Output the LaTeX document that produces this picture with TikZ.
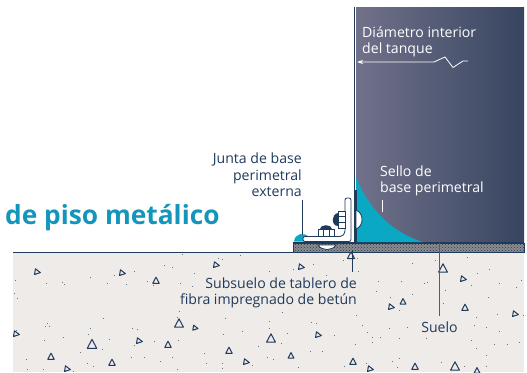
\documentclass[tikz,border=0pt]{standalone}
\usepackage{fontspec}
\setmainfont{Open Sans}
\usepackage{xcolor}
\usetikzlibrary{calc, patterns, arrows.meta}

\definecolor{navy}{HTML}{1F3A5C}
\definecolor{sealblue}{HTML}{0BA8C4}
\definecolor{titleblue}{HTML}{1495BC}
\definecolor{groundgray}{HTML}{EEEBE8}

\tikzset{
  labeltext/.style={text=navy, inner sep=0pt, font=\fontsize{14.1}{16.4}\selectfont},
  whitetext/.style={text=white, inner sep=0pt, font=\fontsize{14.1}{16.4}\selectfont},
  steelpart/.style={draw=navy, line width=0.8pt, fill=white},
  leaderline/.style={draw=navy, line width=0.8pt},
  stone/.style={draw=navy, line width=1pt, line join=round}
}

\begin{document}
\begin{tikzpicture}[x=1pt, y=-1pt]

  \useasboundingbox (0,0) rectangle (527,372);

  % Draw the ground
  \fill[groundgray] (13,252) rectangle (524,372);
  \draw[navy, line width=0.9pt] (13,252) -- (293,252);

  % Stones in the ground
  \foreach \px/\py/\size/\turn in {37/272/3.4/-100, 122/273/3.4/-100, 156/281/3.8/0, 216/265/3.4/-100,
    179/324/5.2/0, 195/328/3/-100, 16/334/3.4/-100, 92/345/5.6/0, 139/341/3.4/-100, 168/345/3.8/0,
    51/357/3.8/0, 112/363/3.8/0, 67/369/3.4/-100, 229/351/3.8/0, 246/362/3.4/-100, 351/256/4.2/0,
    301/267/3.4/-100, 443/269/5.2/0, 463/279/3.4/-100, 403/302/3.4/0, 391/307/3.4/-100, 465/308/3.8/0,
    515/314/3.4/-100, 271/339/5.2/0, 318/335/3.4/-100, 291/356/3.4/0, 353/362/3.8/0, 370/369/3.4/-100,
    415/367/3.8/0, 455/367/5.2/0, 477/371/3.4/0}
    \draw[stone, shift={(\px,\py)}, rotate=\turn] (0,-\size) -- (0.85*\size,0.6*\size) -- (-0.85*\size,0.6*\size) -- cycle;

  % Specks in the ground
  \foreach \px/\py in {182/254, 218/258, 222/259, 240/255, 164/265, 172/267, 194/273, 134/271,
    114/275, 90/277, 15/280, 46/283, 62/282, 64/284, 107/283, 126/284, 147/281, 153/285, 180/283,
    192/286, 14/293, 17/298, 179/311, 177/317, 103/318, 47/323, 49/326, 45/326, 225/318, 90/328,
    132/328, 137/329, 242/331, 16/330, 88/334, 223/334, 44/340, 63/337, 109/339, 154/341, 178/340,
    134/345, 102/349, 80/352, 204/353, 258/346, 26/359, 131/357, 144/357, 172/357, 160/361, 87/363,
    93/366, 206/363, 222/363, 252/365, 27/369, 43/369, 177/369, 222/368, 73/371, 343/260, 357/258,
    313/264, 293/269, 269/271, 358/271, 326/275, 412/263, 435/260, 467/257, 489/269, 477/273,
    521/280, 499/283, 471/285, 378/281, 401/281, 424/283, 427/282, 376/291, 445/290, 390/297,
    516/287, 412/294, 488/297, 443/303, 399/310, 476/317, 497/314, 523/315, 356/315, 282/312,
    269/321, 311/322, 316/323, 362/325, 389/328, 407/327, 474/325, 486/327, 499/331, 269/328,
    287/333, 367/332, 380/337, 372/337, 334/335, 399/338, 426/338, 471/340, 494/344, 507/344,
    519/342, 355/344, 372/342, 281/343, 476/348, 310/351, 322/351, 267/357, 273/359, 486/355,
    344/366, 366/363, 399/358, 392/361, 397/367, 441/362, 298/367, 464/366, 486/366}
    \fill[navy!70!white] (\px-0.5,\py-0.5) rectangle (\px+0.5,\py+0.5);

  % Draw the tank wall
  \fill[left color={rgb,255:red,113;green,113;blue,138}, middle color={rgb,255:red,88;green,92;blue,122},
    right color={rgb,255:red,55;green,69;blue,96}] (356,7) rectangle (524,243);
  \draw[navy, line width=1pt] (354.5,7) -- (354.5,243);

  % Draw the base plate
  \draw[navy, line width=1pt, pattern=crosshatch dots, pattern color=navy, preaction={fill=gray!90}]
    (293,243) rectangle (524,252);
  \fill[navy] (293,241.5) rectangle (524,243.5);

  % Draw the seal
  \fill[sealblue] (356,177) .. controls (368,207) and (390,232) .. (423,242) -- (356,242) -- cycle;
  \draw[navy, line width=1.6pt] (356,190) -- (356,243);

  % Draw the weld under the plate
  \draw[navy, line width=0.7pt, fill=white] (318,245) .. controls (322,251) and (332,251) .. (336,245) -- cycle;

  % Draw the outer joint
  \fill[sealblue] (294,241.5) .. controls (295,233) and (304,232) .. (309,237) -- (309,241.5) -- cycle;

  % Draw the angle bracket
  \draw[steelpart, rounded corners=2pt] (345,198) -- (351,198) -- (351,241.5) -- (303,241.5)
    -- (303,236.5) -- (342,236.5) -- (345,233) -- cycle;

  % Draw the bolts
  \draw[steelpart] (356,210) .. controls (364,213) and (364,226) .. (356,229) -- cycle;
  \draw[steelpart] (338,211) rectangle (345,228);
  \draw[navy, line width=0.8pt] (338,216.5) -- (345,216.5) (338,222.5) -- (345,222.5);
  \fill[navy] (338,213) .. controls (331,214) and (331,226) .. (338,226) -- cycle;
  \draw[steelpart] (318,229) rectangle (334,236.5);
  \draw[navy, line width=0.8pt] (323,229) -- (323,236.5) (329,229) -- (329,236.5);
  \fill[navy] (320,229) .. controls (320,224) and (332,224) .. (332,229) -- cycle;

  % Title and labels
  \node[inner sep=0pt, anchor=base west, text=titleblue, font=\fontsize{26.3}{28}\selectfont\bfseries]
    (titlelabel) at (5,224) {de piso metálico};
  \node[whitetext, anchor=north west, align=left] (diamlabel) at (362,26.5) {Diámetro interior\\del tanque};
  \node[whitetext, anchor=north west, align=left] (sellolabel) at (380,165.5) {Sello de\\base perimetral};
  \node[labeltext, anchor=south east, align=right] (juntalabel) at (302,197) {Junta de base\\perimetral\\externa};
  \node[labeltext, anchor=north east, align=right] (subsuelolabel) at (357,277.5) {Subsuelo de tablero de\\fibra impregnado de betún};
  \node[labeltext, anchor=north] (suelolabel) at (439.5,322) {Suelo};

  % Leader lines
  \coordinate (juntatop) at (302,200);
  \coordinate (juntafoot) at (302,235);
  \coordinate (sellotop) at (382,200);
  \coordinate (sellofoot) at (382,212);
  \coordinate (subsuelotop) at (352,250);
  \coordinate (subsuelofoot) at (352,272);
  \coordinate (suelotop) at (439.5,243);
  \coordinate (suelofoot) at (439.5,316);
  \coordinate (arrowtail) at (434,62);
  \coordinate (arrowtip) at (357,62);
  \draw[leaderline] (juntatop) -- (juntafoot);
  \draw[white, line width=0.8pt] (sellotop) -- (sellofoot);
  \draw[leaderline] (subsuelotop) -- (subsuelofoot);
  \draw[draw=black!60!navy!70, line width=1.2pt] (suelotop) -- (suelofoot);

  % Draw the break arrow
  \draw[white, line width=0.8pt, -{Stealth[length=6pt, width=4pt]}] (468,61) -- (463,61) -- (453,67.5) -- (445,57) -- (arrowtail) -- (arrowtip);

\end{tikzpicture}
\end{document}
